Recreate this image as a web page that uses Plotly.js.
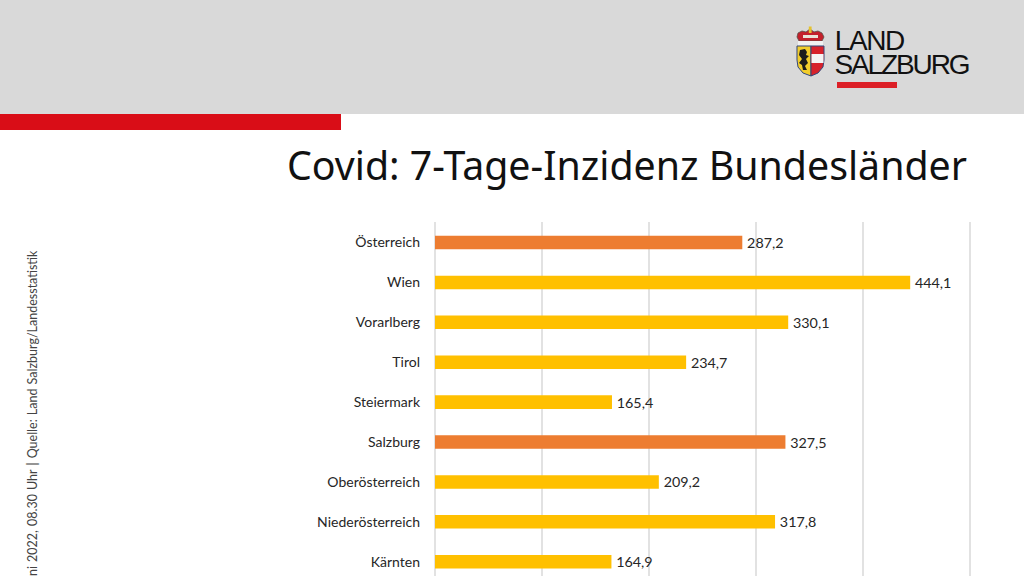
<!DOCTYPE html>
<html><head><meta charset="utf-8">
<script src="https://cdn.plot.ly/plotly-3.0.1.min.js"></script>
<style>html,body{margin:0;padding:0;background:#fff;overflow:hidden}#c{width:1024px;height:576px}
.annotation[data-index="0"] text{letter-spacing:-1.4px}
.annotation[data-index="1"] text{letter-spacing:-2.1px}
.annotation[data-index="2"] text{word-spacing:0.9px}
</style>
</head><body><div id="c"></div>
<script>
const categories = ["Österreich","Wien","Vorarlberg","Tirol","Steiermark","Salzburg","Oberösterreich","Niederösterreich","Kärnten"];
const values = [287.2,444.1,330.1,234.7,165.4,327.5,209.2,317.8,164.9];
const barColors = ["#ed7d31","#ffc000","#ffc000","#ffc000","#ffc000","#ed7d31","#ffc000","#ffc000","#ffc000"];
const tickValues = [0,100,200,300,400,500];
const chartTitle = "Covid: 7-Tage-Inzidenz Bundesländer";
const sourceNote = "Juni 2022, 08.30 Uhr | Quelle: Land Salzburg/Landesstatistik";

const L=429,R=976,T=222,B=576;
const X=p=>(p-L)/(R-L), Y=p=>(B-p)/(B-T);
const path=pts=>pts.map((q,i)=>(i?'L':'M')+X(q[0]).toFixed(5)+','+Y(q[1]).toFixed(5)).join(' ')+' Z';
const rect=(x0,y0,x1,y1,c,layer)=>({type:'rect',xref:'paper',yref:'paper',x0:X(x0),x1:X(x1),y0:Y(y1),y1:Y(y0),fillcolor:c,line:{width:0},layer:layer||'above'});
const poly=(pts,c,lc,lw)=>({type:'path',xref:'paper',yref:'paper',path:path(pts),fillcolor:c,line:{width:lw||0,color:lc||c},layer:'above'});

const shapes=[
 rect(0,0,1024,114,'#d9d9d9','below'),
 rect(0,114,341,130,'#d90d17','below'),
 rect(837,82,897,88,'#dc1f26'),
 // crown
 poly([[797,37],[798,33],[802,31],[806,32],[810,29],[814,32],[818,31],[822,33],[824,37],[822,41],[799,41]],'#c4202b','#55504a',0.8),
 rect(803,35,818,38,'#e9e3d8'),
 rect(808.8,26.5,811.6,33,'#e4c22e'),
 // white band
 rect(798,41,823,46,'#f1f1f1'),
 // shield
 poly([[797,46],[811,46],[811,76],[803,73],[798,67],[797,60]],'#f2cd2c','#33477a',1),
 poly([[811,46],[824,46],[824,60],[823,67],[818,73],[811,76]],'#d7222b','#33477a',1),
 rect(811.5,54,823.5,63,'#f4f4f4'),
 // lion
 poly([[800,50],[805,49],[807,52],[806,55],[809,56],[806,59],[808,63],[805,66],[807,70],[803,70],[802,65],[799,63],[802,59],[799,55]],'#1c1c1c')
];

const data=[{type:'bar',orientation:'h',y:categories,x:values,
 marker:{color:barColors,line:{width:0}},
 text:values.map(v=>'\u2009'+v.toFixed(1).replace('.',',')),textposition:'outside',cliponaxis:false,constraintext:'none',
 textfont:{family:'Lato, "Open Sans", sans-serif',size:14.3,color:'#262626'},
 hoverinfo:'none'}];
const layout={width:1024,height:576,margin:{l:L,r:1024-R,t:T,b:0,pad:0},
 paper_bgcolor:'#fff',plot_bgcolor:'#fff',showlegend:false,bargap:0.66,
 title:{text:chartTitle,x:967/1024,xref:'container',xanchor:'right',y:1-166/576,yref:'container',yanchor:'middle',
  font:{family:'Noto Sans',size:39.3,color:'#111'}},
 xaxis:{range:[-5.607,505.607],tickvals:tickValues,showticklabels:false,ticks:'',showgrid:true,gridcolor:'#e2e2e2',gridwidth:1.4,zeroline:true,zerolinecolor:'#e2e2e2',zerolinewidth:1.4,showline:false,fixedrange:true},
 yaxis:{type:'category',categoryorder:'array',categoryarray:categories,range:[8.358,-0.514],ticks:'',ticklabelstandoff:8,showgrid:false,zeroline:false,showline:false,
  tickfont:{family:'Lato, "Open Sans", sans-serif',size:14,color:'#262626'},fixedrange:true},
 shapes:shapes,
 annotations:[
  {text:'LAND',xref:'paper',yref:'paper',x:X(869),y:Y(40),xanchor:'center',yanchor:'middle',showarrow:false,font:{family:'Liberation Sans',size:28,color:'#111'}},
  {text:'SALZBURG',xref:'paper',yref:'paper',x:X(901.5),y:Y(64.5),xanchor:'center',yanchor:'middle',showarrow:false,font:{family:'Liberation Sans',size:28,color:'#111'}},
  {text:sourceNote,xref:'paper',yref:'paper',x:X(32),y:Y(251),xanchor:'center',yanchor:'top',textangle:-90,showarrow:false,font:{family:'Lato, "Open Sans", sans-serif',size:12.5,color:'#444'}}
 ]};
Plotly.newPlot('c',data,layout,{displayModeBar:false,staticPlot:true});
</script></body></html>
